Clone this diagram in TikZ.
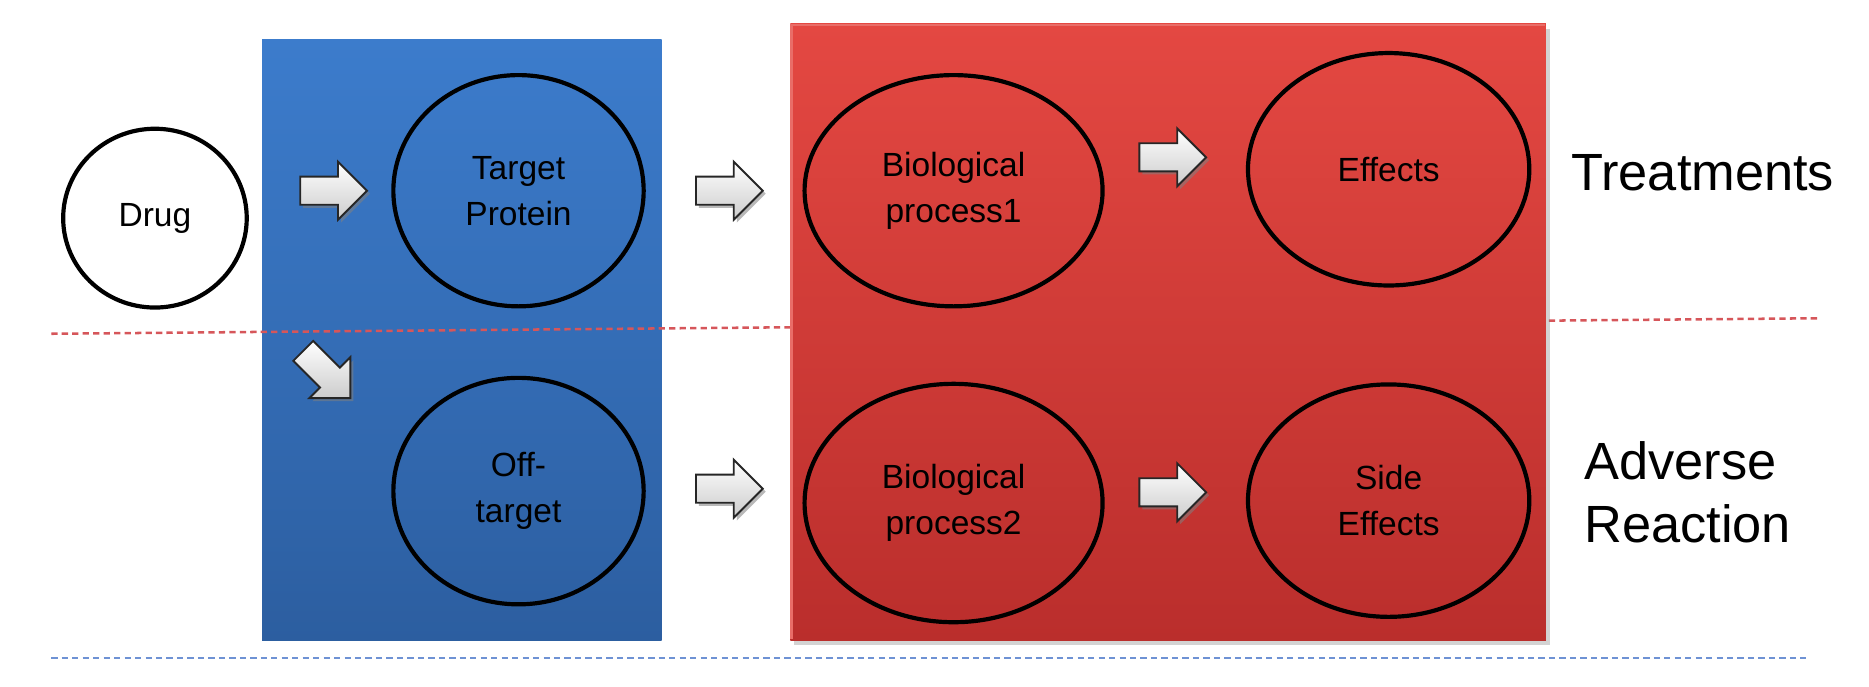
\documentclass[tikz,border=0pt]{standalone}
\usepackage{fontspec}
\setmainfont{Liberation Sans}
\usetikzlibrary{shapes.geometric,shapes.arrows,shadows}
\definecolor{bluetop}{RGB}{60,124,204}
\definecolor{bluebot}{RGB}{44,94,160}
\definecolor{redtop}{RGB}{228,72,66}
\definecolor{redbot}{RGB}{186,46,44}
\definecolor{reddash}{RGB}{214,86,90}
\definecolor{bluedash}{RGB}{110,146,212}
\tikzset{
  bubble/.style={ellipse, draw=black, line width=2pt, inner sep=0pt, align=center,
    font=\fontsize{16}{22}\selectfont},
  blockarrow/.style={single arrow, draw=black!85, line width=0.9pt, inner sep=2.2mm,
    minimum height=11.2mm, minimum width=9mm, top color=white, bottom color=black!20,
    drop shadow={opacity=0.55, shadow xshift=0.5mm, shadow yshift=-0.5mm}},
  label text/.style={font=\fontsize{25}{30}\selectfont, align=left, anchor=west}
}
\begin{document}
\begin{tikzpicture}[x=0.2mm,y=-0.2mm]
        \useasboundingbox (0,0) rectangle (1568,576);
        % panels and guide lines
        \shade[top color=bluetop, bottom color=bluebot] (220,33) rectangle (555,537);
        \coordinate (redL) at (43,280);
        \coordinate (redR) at (1525,267);
        \coordinate (blueL) at (43,552);
        \coordinate (blueR) at (1515,552);
        \draw[reddash, line width=1.2pt, dash pattern=on 3pt off 2pt] (redL) -- (redR);
        \draw[bluedash, line width=1.2pt, dash pattern=on 3pt off 2pt] (blueL) -- (blueR);
        \shade[top color=redtop, bottom color=redbot,
          drop shadow={opacity=0.35, shadow xshift=0.6mm, shadow yshift=-0.8mm}]
          (663,20) rectangle (1297,537);
        \draw[redtop!80!white, line width=1pt] (664,536) -- (664,21) -- (1296,21);
        % circles
        \node[bubble, fill=white, minimum width=30.8mm, minimum height=30mm] at (130,183) (drug) {Drug};
        \node[bubble, minimum width=42mm, minimum height=38.8mm] at (435,160) (target) {Target\\Protein};
        \node[bubble, minimum width=42mm, minimum height=38mm] at (435,412) (off) {Off-\\target};
        \node[bubble, minimum width=50mm, minimum height=38.8mm] at (800,160) (bio1) {Biological\\process1};
        \node[bubble, minimum width=47.2mm, minimum height=39mm] at (1165,142) (eff) {Effects};
        \node[bubble, minimum width=50mm, minimum height=40mm] at (800,422) (bio2) {Biological\\process2};
        \node[bubble, minimum width=47.2mm, minimum height=39mm] at (1165,420) (side) {Side\\Effects};
        % block arrows
        \node[blockarrow] at (274,160) (drug-target) {};
        \node[blockarrow, rotate=-45] at (270,310) (drug-off) {};
        \node[blockarrow] at (606,160) (target-bio1) {};
        \node[blockarrow] at (606,410) (off-bio2) {};
        \node[blockarrow] at (978,132) (bio1-eff) {};
        \node[blockarrow] at (978,413) (bio2-side) {};
        % row labels
        \node[label text] at (1312,145) (treat) {Treatments};
        \node[label text] at (1323,413) (adverse) {Adverse\\Reaction};
      \end{tikzpicture}
\end{document}
